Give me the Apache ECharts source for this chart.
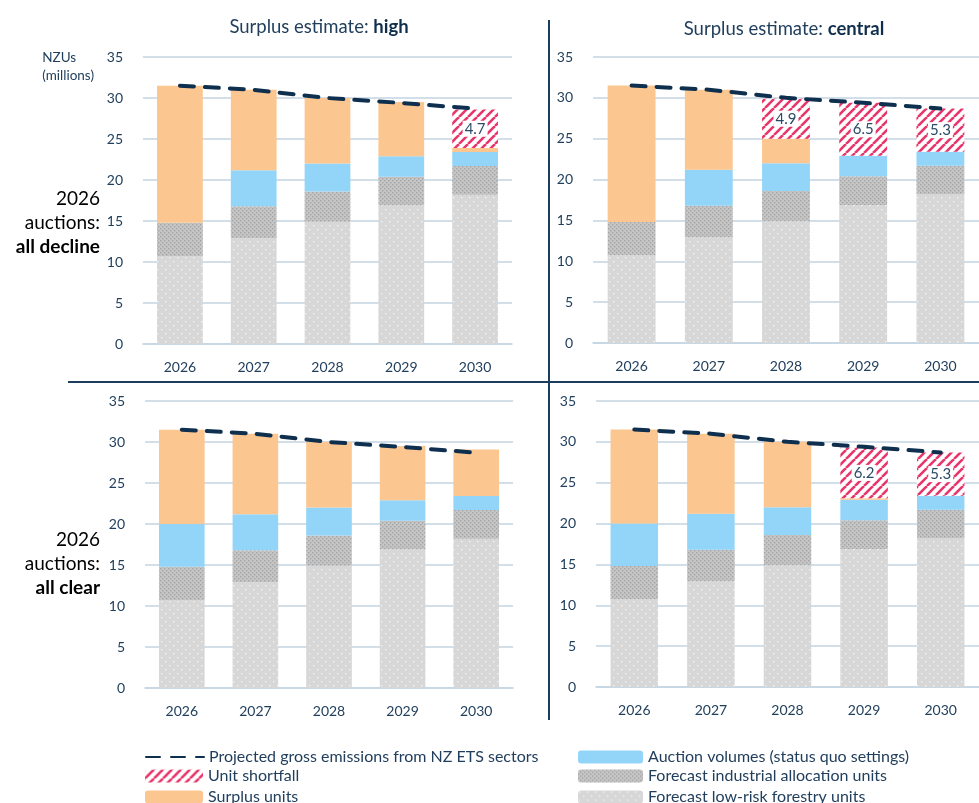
<!DOCTYPE html>
<html>
<head>
<meta charset="utf-8">
<script src="https://cdn.jsdelivr.net/npm/echarts@6/dist/echarts.min.js"></script>
<style>
  html, body { margin: 0; padding: 0; background: #fff; }
  #chart { width: 979px; height: 803px; }
</style>
</head>
<body>
<div id="chart"></div>
<script>
// data (millions of NZUs)
var years = ['2026', '2027', '2028', '2029', '2030'];
var forestry = [10.7, 12.9, 14.9, 16.9, 18.2];
var industrial = [4.1, 3.9, 3.7, 3.5, 3.5];
var auctionDecline = [0, 4.4, 3.4, 2.5, 1.7];
var auctionClear = [5.2, 4.4, 3.4, 2.5, 1.7];
var emissions = [31.5, 31.0, 30.0, 29.4, 28.7];

var surplusHighDecline = [16.7, 9.8, 8.0, 6.6, 0.5];
var shortfallHighDecline = [null, null, null, null, 4.7];
var surplusCentralDecline = [16.7, 9.8, 3.0, null, null];
var shortfallCentralDecline = [null, null, 4.9, 6.5, 5.3];
var surplusHighClear = [11.5, 9.8, 8.0, 6.6, 5.7];
var shortfallHighClear = [null, null, null, null, null];
var surplusCentralClear = [11.5, 9.8, 8.0, 0.2, null];
var shortfallCentralClear = [null, null, null, 6.2, 5.3];

var yTicks = [0, 5, 10, 15, 20, 25, 30, 35];

var NAMES = {
  line: 'Projected gross emissions from NZ ETS sectors',
  short: 'Unit shortfall',
  surplus: 'Surplus units',
  auction: 'Auction volumes (status quo settings)',
  industrial: 'Forecast industrial allocation units',
  forestry: 'Forecast low-risk forestry units'
};

var textColor = '#213f5d';
var boldColor = '#0f2e4c';
var gridColor = '#c3d5e2';
var font = 'Lato, "Open Sans", sans-serif';

// pattern tiles
function makeTile(w, h, draw) {
  var c = document.createElement('canvas');
  c.width = w; c.height = h;
  draw(c.getContext('2d'));
  return c;
}
var forestryTile = makeTile(8, 8, function (ctx) {
  ctx.fillStyle = '#d7d7d7';
  ctx.fillRect(0, 0, 8, 8);
  ctx.fillStyle = '#f3f3f3';
  ctx.fillRect(1, 1, 1.3, 1.3);
  ctx.fillRect(5, 5, 1.3, 1.3);
});
var industrialTile = makeTile(4, 4, function (ctx) {
  ctx.fillStyle = '#c6c6c6';
  ctx.fillRect(0, 0, 4, 4);
  ctx.fillStyle = '#a3a3a3';
  ctx.fillRect(0, 0, 1.4, 1.4);
  ctx.fillRect(2, 2, 1.4, 1.4);
});
var shortTile = makeTile(9, 9, function (ctx) {
  ctx.fillStyle = '#ffffff';
  ctx.fillRect(0, 0, 9, 9);
  ctx.strokeStyle = '#e8366c';
  ctx.lineWidth = 2.6;
  [-9, 0, 9].forEach(function (o) {
    ctx.beginPath();
    ctx.moveTo(o, 9);
    ctx.lineTo(o + 9, 0);
    ctx.stroke();
  });
});

var colors = {
  forestry: { image: forestryTile, repeat: 'repeat' },
  industrial: { image: industrialTile, repeat: 'repeat' },
  auction: '#93d5f8',
  surplus: '#fbc690',
  short: { image: shortTile, repeat: 'repeat' }
};

var panels = [
  { grid: { left: 143, top: 57, width: 369, height: 287 }, auction: auctionDecline, surplus: surplusHighDecline, short: shortfallHighDecline },
  { grid: { left: 593, top: 57, width: 397, height: 286 }, auction: auctionDecline, surplus: surplusCentralDecline, short: shortfallCentralDecline },
  { grid: { left: 145, top: 401, width: 368, height: 287 }, auction: auctionClear, surplus: surplusHighClear, short: shortfallHighClear },
  { grid: { left: 596, top: 401, width: 392, height: 286 }, auction: auctionClear, surplus: surplusCentralClear, short: shortfallCentralClear }
];

var grids = [], xAxes = [], yAxes = [], series = [];
panels.forEach(function (p, i) {
  grids.push(p.grid);
  xAxes.push({
    type: 'category', gridIndex: i, data: years,
    axisLine: { lineStyle: { color: gridColor, width: 1.5 } },
    axisTick: { show: false },
    axisLabel: { color: textColor, fontSize: 14, fontFamily: font, margin: 16 }
  });
  yAxes.push({
    type: 'value', gridIndex: i, min: 0, max: 35, interval: 5,
    axisLine: { show: false }, axisTick: { show: false },
    splitLine: { lineStyle: { color: gridColor, width: 1.5 } },
    axisLabel: {
      color: textColor, fontSize: 14, fontFamily: font, margin: 20,
      formatter: function (v) { return yTicks.indexOf(v) >= 0 ? String(v) : ''; }
    }
  });
  var stack = 'p' + i;
  function bar(name, data, color, extra) {
    var s = {
      name: name, type: 'bar', stack: stack, xAxisIndex: i, yAxisIndex: i,
      data: data, barWidth: '62%', itemStyle: { color: color },
      emphasis: { disabled: true }, animation: false
    };
    if (extra) Object.assign(s, extra);
    series.push(s);
  }
  bar(NAMES.forestry, forestry, colors.forestry);
  bar(NAMES.industrial, industrial, colors.industrial);
  bar(NAMES.auction, p.auction, colors.auction);
  bar(NAMES.surplus, p.surplus, colors.surplus);
  bar(NAMES.short, p.short, colors.short, {
    label: {
      show: true, position: 'inside',
      formatter: function (d) { return d.value == null ? '' : d.value.toFixed(1); },
      color: '#2b4a68', fontSize: 15, fontFamily: font,
      backgroundColor: '#ffffff', padding: [1, 2, 0, 2]
    }
  });
  series.push({
    name: NAMES.line, type: 'line', xAxisIndex: i, yAxisIndex: i,
    data: emissions, symbol: 'none', z: 5, animation: false,
    lineStyle: { color: '#0e2f4e', width: 4, type: [14, 11], cap: 'round' },
    itemStyle: { color: '#0e2f4e' }
  });
});

function titleRich(x, y, a, b) {
  return {
    left: x, top: y, textAlign: 'center',
    text: '{a|' + a + '}{b|' + b + '}',
    textStyle: {
      rich: {
        a: { fontSize: 18.5, color: textColor, fontWeight: 'normal', fontFamily: font },
        b: { fontSize: 18.5, color: boldColor, fontWeight: 'bold', fontFamily: font }
      }
    }
  };
}

function rowLabel(y, last) {
  return {
    type: 'text', right: 979 - 100, top: y,
    style: {
      text: '{n|2026}\n{n|auctions:}\n{b|' + last + '}',
      align: 'right',
      rich: {
        n: { fontSize: 19, color: textColor, fontFamily: font, lineHeight: 24, align: 'right' },
        b: { fontSize: 19, color: boldColor, fontWeight: 'bold', fontFamily: font, lineHeight: 24, align: 'right' }
      }
    }
  };
}

var legendText = { color: textColor, fontSize: 16, fontFamily: font };

function legendItem(name, x, y, w, extra) {
  var item = { name: name };
  if (extra) Object.assign(item, extra);
  return {
    left: x, top: y, orient: 'horizontal', padding: 0,
    itemWidth: w, itemHeight: 13, textStyle: legendText,
    selectedMode: false, data: [item]
  };
}

var option = {
  animation: false,
  title: [
    titleRich(314, 13, 'Surplus estimate: ', 'high'),
    titleRich(779, 15, 'Surplus estimate: ', 'central')
  ],
  grid: grids,
  xAxis: xAxes,
  yAxis: yAxes,
  series: series,
  legend: [
    legendItem(NAMES.line, 145, 749, 58, { itemStyle: { opacity: 0 } }),
    legendItem(NAMES.short, 145, 768, 58),
    legendItem(NAMES.surplus, 145, 789, 58),
    legendItem(NAMES.auction, 578, 749, 65),
    legendItem(NAMES.industrial, 578, 768, 65),
    legendItem(NAMES.forestry, 578, 789, 65)
  ],
  graphic: [
    { type: 'line', shape: { x1: 549, y1: 20, x2: 549, y2: 720 }, style: { stroke: '#1d3d5c', lineWidth: 2 } },
    { type: 'line', shape: { x1: 68, y1: 382, x2: 979, y2: 382 }, style: { stroke: '#1d3d5c', lineWidth: 2 } },
    {
      type: 'text', right: 979 - 94, top: 49,
      style: { text: 'NZUs\n(millions)', align: 'right', fontSize: 13.5, lineHeight: 18, fill: textColor, fontFamily: font }
    },
    rowLabel(189, 'all decline'),
    rowLabel(530, 'all clear')
  ]
};

var chart = echarts.init(document.getElementById('chart'));
chart.setOption(option);
</script>
</body>
</html>
